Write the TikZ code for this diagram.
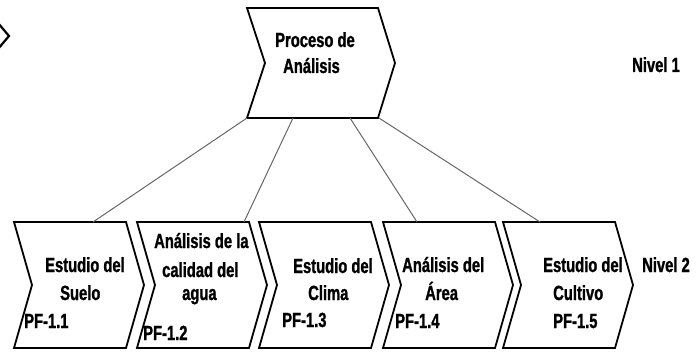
\documentclass[tikz,border=0pt]{standalone}
\usepackage{fontspec}
\newfontfamily\nar{Liberation Sans}[FakeStretch=0.72,FakeBold=1.2]
\begin{document}
\begin{tikzpicture}[x=1pt,y=-1pt,
  chev/.style={draw=black, line width=1.8pt, line join=miter},
  link/.style={draw=black!60, line width=1pt},
  lbl/.style={anchor=base west, inner sep=0pt, font={\nar\bfseries\fontsize{20.5}{24}\selectfont}}]
\useasboundingbox (0,0) rectangle (700,352);
% partial symbol at top left
\draw[line width=2.2pt] (-2,23) -- (9,36) -- (-2,49);
% top chevron
\draw[chev] (247,8) -- (378,8) -- (395,63) -- (378,118) -- (247,118) -- (265,63) -- cycle;
\coordinate (t1) at (247,118);
\coordinate (t2) at (293,118);
\coordinate (t3) at (350,118);
\coordinate (t4) at (379,118);
\node[lbl] (p1) at (275,47) {Proceso de};
\node[lbl] (p2) at (283,73) {Análisis};
\node[lbl] (n1) at (632,72) {Nivel 1};
% bottom chevrons
\foreach \x/\n in {14/1,137/2,259/3,383/4,503/5}{
  \draw[chev] (\x,222) -- ({\x+112},222) -- ({\x+130},285) -- ({\x+112},348) -- (\x,348) -- ({\x+18},285) -- cycle;
}
\coordinate (b1) at (93,222);
\coordinate (b2) at (244,222);
\coordinate (b3) at (417,222);
\coordinate (b4) at (540,222);
\draw[link] (t1) -- (b1);
\draw[link] (t2) -- (b2);
\draw[link] (t3) -- (b3);
\draw[link] (t4) -- (b4);
% texts
\node[lbl] (a1) at (45,272) {Estudio del};
\node[lbl] (a2) at (60,300) {Suelo};
\node[lbl] (a3) at (24,328) {PF-1.1};
\node[lbl] (c1) at (154,248) {Análisis de la};
\node[lbl] (c2) at (162,277) {calidad del};
\node[lbl] (c3) at (182,300) {agua};
\node[lbl] (c4) at (143,340) {PF-1.2};
\node[lbl] (d1) at (293,273) {Estudio del};
\node[lbl] (d2) at (308,300) {Clima};
\node[lbl] (d3) at (282,327) {PF-1.3};
\node[lbl] (e1) at (402,272) {Análisis del};
\node[lbl] (e2) at (425,300) {Área};
\node[lbl] (e3) at (395,328) {PF-1.4};
\node[lbl] (f1) at (543,272) {Estudio del};
\node[lbl] (f2) at (553,300) {Cultivo};
\node[lbl] (f3) at (553,328) {PF-1.5};
\node[lbl] (n2) at (642,272) {Nivel 2};
\end{tikzpicture}
\end{document}
